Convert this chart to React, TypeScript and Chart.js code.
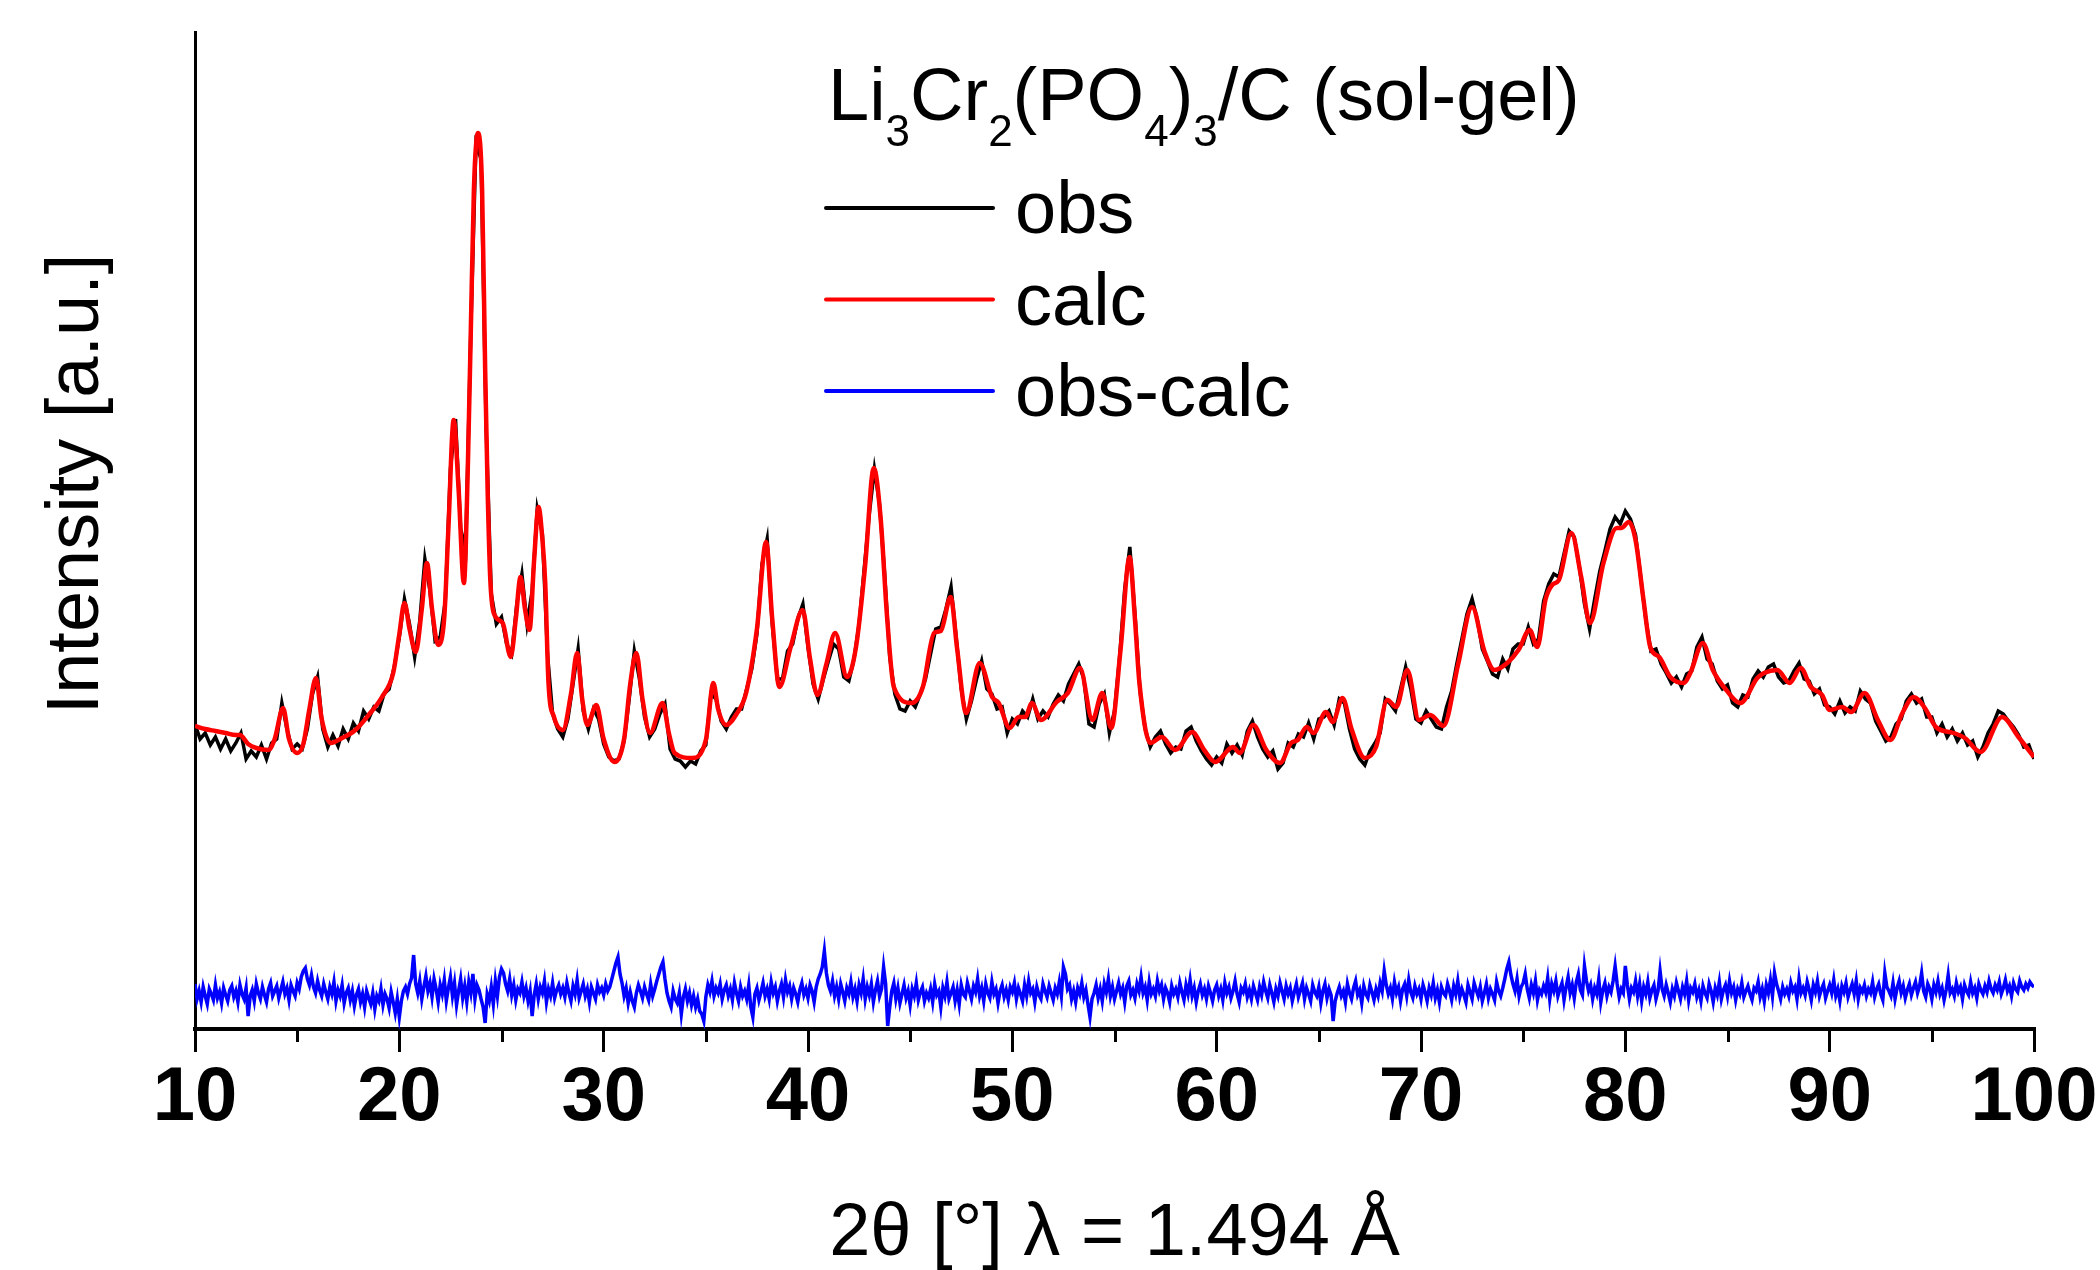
import React, { useEffect, useRef } from "react";
import { Chart, registerables } from "chart.js";

Chart.register(...registerables);

const FONT = "'Liberation Sans', Arial, Helvetica, sans-serif";

// ---- axes ----
const xMin = 10;
const xMax = 100;
const xMajorStep = 10;
const xMinorTicks = [15, 25, 35, 45, 55, 65, 75, 85, 95];
const yMin = 0;
const yMax = 997;
const xTitle = "2\u03B8 [\u00B0] \u03BB = 1.494 \u00C5";
const yTitle = "Intensity [a.u.]";

// legend title: Li3Cr2(PO4)3/C (sol-gel)
const legendTitleParts: { t: string; sub?: boolean }[] = [
  { t: "Li" }, { t: "3", sub: true }, { t: "Cr" }, { t: "2", sub: true },
  { t: "(PO" }, { t: "4", sub: true }, { t: ")" }, { t: "3", sub: true },
  { t: "/C (sol-gel)" },
];

// ---- calculated profile [2theta, intensity] ----
const calcPattern: [number, number][] = [
  [10.0, 303], [10.5, 300], [11.0, 298], [11.5, 296], [12.0, 294], [12.2, 294], [12.6, 285], [13.0, 281],
  [13.6, 279], [13.9, 290], [14.31, 321], [14.6, 290], [15.0, 276], [15.3, 285], [15.6, 320], [15.92, 351],
  [16.2, 310], [16.65, 286], [17.2, 291], [17.85, 299], [18.5, 314], [19.15, 332], [19.7, 356], [20.0, 395],
  [20.25, 426], [20.5, 400], [20.8, 377], [21.1, 420], [21.35, 466], [21.6, 420], [21.9, 384], [22.2, 412],
  [22.4, 500], [22.66, 609], [22.9, 540], [23.16, 446], [23.35, 560], [23.5, 700], [23.65, 840], [23.85, 896],
  [24.05, 840], [24.2, 660], [24.32, 540], [24.45, 450], [24.62, 416], [25.06, 406], [25.45, 372], [25.7, 410],
  [25.93, 452], [26.15, 420], [26.37, 399], [26.6, 470], [26.81, 522], [27.0, 490], [27.14, 446], [27.3, 346],
  [27.57, 312], [28.0, 299], [28.4, 335], [28.7, 376], [28.95, 330], [29.2, 304], [29.64, 324], [30.0, 290],
  [30.52, 267], [31.0, 290], [31.3, 345], [31.6, 376], [31.9, 330], [32.27, 296], [32.88, 326], [33.2, 295],
  [33.47, 276], [34.33, 271], [35.0, 289], [35.37, 346], [35.6, 320], [36.0, 304], [36.5, 315], [36.97, 336],
  [37.5, 400], [37.95, 487], [38.25, 410], [38.6, 342], [39.15, 382], [39.74, 419], [40.1, 370], [40.46, 334],
  [40.9, 365], [41.33, 396], [41.91, 352], [42.35, 382], [42.79, 462], [43.22, 561], [43.55, 512], [43.87, 412],
  [44.2, 342], [45.07, 326], [45.62, 342], [46.17, 396], [46.5, 398], [46.98, 432], [47.3, 380], [47.74, 316],
  [48.4, 366], [49.01, 332], [49.33, 326], [49.87, 301], [50.31, 312], [50.63, 312], [50.96, 326], [51.4, 309],
  [52.17, 327], [52.72, 336], [53.31, 361], [53.92, 309], [54.4, 336], [54.84, 301], [55.3, 380], [55.74, 472],
  [56.0, 410], [56.22, 346], [56.76, 286], [57.31, 292], [57.97, 279], [58.8, 297], [59.39, 279], [59.93, 267],
  [60.8, 282], [61.13, 276], [61.79, 304], [62.43, 279], [63.1, 266], [63.64, 286], [63.97, 289], [64.41, 302],
  [64.74, 296], [65.35, 317], [65.68, 307], [66.16, 331], [66.6, 300], [67.25, 271], [67.8, 282], [68.35, 329],
  [68.79, 322], [69.33, 359], [69.9, 309], [70.45, 314], [71.1, 303], [71.82, 365], [72.5, 422], [73.1, 378],
  [73.6, 359], [74.22, 366], [74.77, 379], [75.32, 399], [75.69, 382], [76.1, 430], [76.42, 444], [76.75, 449],
  [77.36, 496], [77.84, 452], [78.27, 406], [78.93, 466], [79.58, 501], [79.8, 501], [80.17, 507], [80.5, 489],
  [80.89, 429], [81.22, 382], [81.66, 372], [82.2, 352], [82.86, 346], [83.18, 356], [83.79, 386], [84.28, 359],
  [84.94, 339], [85.63, 326], [86.46, 351], [86.79, 356], [87.44, 359], [88.04, 346], [88.58, 361], [89.08, 342],
  [89.63, 334], [90.0, 319], [90.61, 322], [91.05, 317], [91.71, 336], [92.36, 309], [92.97, 289], [93.56, 316],
  [94.11, 332], [94.66, 321], [95.2, 302], [96.07, 296], [96.62, 291], [97.39, 277], [98.44, 312], [99.24, 292],
  [100.0, 272],
];

// ---- observed profile, 2theta from 10 in steps of 0.25 ----
const obsStart = 10;
const obsStep = 0.25;
const obsIntensity = [
  305, 290, 296, 284, 292, 280, 290, 278, 286, 296, 270, 278, 272, 284, 270, 286, 290, 326, 300, 280,
  285, 280, 300, 335, 352, 300, 282, 294, 283, 300, 290, 306, 298, 318, 310, 322, 318, 335, 340, 362,
  392, 430, 405, 372, 408, 470, 438, 388, 392, 428, 560, 610, 500, 480, 700, 885, 870, 600, 435, 405,
  412, 385, 375, 425, 455, 405, 438, 520, 495, 375, 315, 300, 292, 310, 345, 380, 318, 300, 320, 310,
  285, 272, 268, 270, 288, 330, 378, 350, 312, 292, 300, 315, 325, 280, 270, 268, 262, 268, 265, 278,
  284, 335, 330, 308, 300, 312, 320, 320, 340, 360, 395, 465, 490, 405, 350, 350, 378, 385, 410, 425,
  382, 345, 330, 350, 368, 385, 380, 352, 348, 370, 405, 460, 515, 560, 525, 455, 372, 335, 320, 318,
  328, 322, 335, 350, 375, 400, 402, 420, 442, 392, 340, 310, 328, 350, 368, 340, 335, 320, 322, 296,
  310, 305, 318, 312, 330, 310, 318, 312, 325, 334, 328, 345, 355, 365, 350, 305, 302, 325, 335, 296,
  318, 372, 440, 482, 415, 338, 300, 282, 292, 298, 285, 276, 282, 280, 298, 302, 288, 278, 270, 264,
  272, 266, 285, 276, 284, 274, 298, 308, 292, 280, 272, 278, 260, 266, 286, 282, 295, 292, 306, 290,
  310, 312, 318, 304, 330, 326, 300, 280, 270, 264, 278, 286, 296, 330, 325, 318, 340, 362, 340, 310,
  306, 318, 310, 302, 300, 322, 338, 365, 390, 415, 430, 410, 380, 368, 355, 352, 370, 360, 380, 385,
  385, 402, 385, 390, 428, 445, 455, 452, 475, 498, 492, 462, 425, 400, 430, 458, 478, 500, 512, 505,
  518, 510, 494, 452, 410, 378, 380, 365, 356, 346, 352, 342, 355, 358, 382, 392, 370, 365, 348, 340,
  344, 326, 322, 334, 332, 350, 358, 352, 362, 365, 352, 346, 348, 358, 366, 350, 348, 335, 340, 324,
  322, 315, 328, 316, 322, 318, 338, 330, 326, 308, 298, 288, 292, 305, 310, 328, 335, 326, 330, 312,
  312, 296, 305, 292, 300, 288, 296, 284, 288, 272, 282, 296, 305, 318, 315, 308, 302, 294, 282, 284,
  270,
];

// ---- difference curve (offset), 2theta from 10 in steps of 0.1 ----
const diffStart = 10;
const diffStep = 0.1;
const diffIntensity = [
  45, 30, 38, 27, 42, 33, 25, 40, 35, 29, 44, 31, 37, 26, 41, 34, 28, 39, 43, 32,
  38, 27, 44, 35, 30, 41, 13, 33, 39, 28, 45, 36, 30, 42, 34, 27, 40, 46, 33, 38,
  43, 31, 39, 47, 35, 41, 29, 44, 38, 33, 46, 40, 52, 58, 61, 50, 44, 54, 42, 36,
  48, 39, 33, 45, 37, 30, 42, 35, 47, 28, 39, 33, 44, 26, 36, 41, 29, 38, 23, 34,
  40, 27, 35, 22, 38, 31, 25, 36, 20, 33, 28, 40, 24, 35, 30, 21, 37, 27, 16, 30,
  12, 28, 38, 42, 35, 45, 51, 74, 45, 36, 48, 30, 42, 53, 38, 46, 32, 50, 40, 27,
  44, 35, 49, 28, 41, 52, 33, 46, 24, 38, 50, 31, 43, 27, 47, 36, 55, 30, 44, 39,
  30, 22, 6, 35, 28, 42, 25, 48, 33, 52, 60, 56, 45, 38, 50, 34, 44, 29, 40, 36,
  47, 33, 41, 28, 38, 13, 34, 45, 30, 42, 36, 48, 27, 40, 33, 46, 31, 39, 44, 35,
  41, 32, 46, 36, 28, 43, 35, 49, 31, 38, 45, 33, 40, 27, 42, 36, 30, 44, 37, 41,
  34, 45, 38, 42, 50, 58, 66, 72, 55, 46, 33, 41, 26, 37, 28, 22, 36, 44, 38, 31,
  42, 35, 29, 45, 33, 40, 48, 55, 62, 67, 50, 36, 28, 22, 38, 30, 26, 36, 15, 32,
  40, 28, 36, 24, 33, 22, 30, 18, 15, 8, 32, 44, 37, 48, 33, 41, 36, 45, 30, 39,
  44, 33, 40, 29, 46, 36, 28, 42, 33, 38, 30, 44, 22, 12, 35, 41, 29, 37, 46, 33,
  40, 30, 47, 36, 42, 28, 38, 45, 32, 49, 37, 43, 30, 41, 35, 27, 39, 46, 34, 40,
  31, 44, 38, 27, 42, 50, 55, 62, 78, 56, 44, 38, 48, 33, 42, 30, 45, 37, 28, 41,
  35, 47, 32, 40, 28, 44, 36, 50, 30, 42, 34, 45, 27, 39, 48, 33, 40, 62, 45, 3,
  22, 38, 46, 30, 41, 26, 35, 44, 31, 38, 24, 40, 33, 46, 29, 37, 42, 28, 36, 31,
  40, 27, 45, 34, 38, 22, 41, 33, 47, 30, 36, 42, 28, 39, 25, 44, 35, 32, 46, 38,
  30, 43, 37, 50, 33, 41, 28, 45, 36, 31, 47, 35, 40, 26, 38, 44, 32, 39, 29, 42,
  37, 46, 30, 41, 35, 28, 44, 33, 48, 36, 40, 27, 42, 34, 30, 45, 38, 32, 43, 36,
  29, 41, 35, 47, 33, 62, 55, 40, 44, 30, 38, 27, 41, 35, 46, 32, 39, 25, 12, 30,
  36, 44, 31, 40, 28, 45, 37, 50, 33, 42, 30, 38, 46, 35, 41, 27, 43, 48, 34, 39,
  31, 45, 38, 52, 36, 42, 29, 47, 35, 40, 33, 48, 38, 44, 30, 41, 36, 27, 43, 35,
  40, 32, 46, 37, 29, 44, 35, 49, 33, 41, 27, 38, 45, 34, 40, 30, 43, 36, 28, 39,
  44, 33, 40, 29, 46, 36, 42, 31, 38, 48, 35, 27, 41, 37, 45, 32, 39, 30, 43, 36,
  29, 42, 34, 47, 38, 31, 44, 36, 27, 40, 33, 46, 38, 30, 43, 35, 41, 28, 37, 45,
  32, 39, 46, 30, 41, 35, 28, 44, 37, 33, 42, 26, 38, 45, 31, 40, 34, 8, 28, 36,
  42, 33, 38, 27, 45, 36, 30, 41, 48, 34, 39, 26, 43, 35, 31, 44, 37, 29, 40, 33,
  46, 38, 58, 44, 35, 41, 30, 47, 36, 42, 28, 40, 45, 33, 49, 37, 31, 43, 35, 40,
  30, 44, 37, 28, 41, 34, 46, 31, 39, 27, 42, 36, 33, 45, 38, 29, 43, 35, 48, 32,
  40, 34, 27, 44, 37, 30, 46, 39, 33, 42, 28, 36, 45, 31, 40, 35, 29, 47, 38, 33,
  41, 50, 60, 67, 54, 45, 38, 50, 33, 42, 46, 55, 40, 31, 44, 36, 48, 29, 39, 35,
  43, 37, 51, 30, 45, 38, 48, 33, 40, 46, 29, 42, 52, 36, 44, 31, 47, 55, 39, 34,
  63, 48, 38, 44, 30, 41, 35, 50, 27, 39, 46, 33, 42, 37, 48, 63, 45, 32, 40, 36,
  63, 44, 30, 41, 37, 48, 33, 45, 28, 42, 35, 47, 31, 39, 44, 30, 38, 58, 40, 33,
  44, 36, 27, 40, 33, 46, 38, 30, 42, 35, 48, 29, 41, 37, 45, 32, 39, 28, 43, 36,
  31, 45, 38, 27, 41, 34, 47, 30, 39, 44, 33, 48, 36, 42, 29, 40, 35, 46, 32, 38,
  43, 35, 29, 41, 38, 47, 32, 40, 28, 44, 36, 49, 33, 56, 45, 38, 30, 42, 35, 40,
  33, 46, 38, 42, 30, 50, 36, 41, 34, 47, 39, 29, 44, 37, 48, 33, 40, 45, 31, 38,
  44, 36, 49, 33, 40, 28, 43, 37, 46, 32, 39, 45, 35, 48, 30, 41, 37, 44, 33, 40,
  36, 47, 32, 40, 45, 35, 29, 56, 42, 38, 33, 46, 30, 41, 48, 36, 43, 31, 39, 45,
  34, 41, 47, 36, 43, 56, 38, 32, 45, 40, 30, 44, 37, 48, 35, 41, 29, 39, 54, 36,
  40, 33, 46, 37, 42, 30, 44, 38, 34, 47, 36, 41, 31, 45, 39, 35, 43, 37, 48, 40,
  36, 44, 39, 47, 35, 41, 49, 38, 43, 33, 46, 40, 37, 48, 42, 39, 45, 41, 47, 44,
  42,
];

const decorPlugin = {
  id: "decor",
  afterDraw(chart: any) {
    const { ctx, chartArea, scales } = chart;
    const xs = scales.x;
    ctx.save();

    // minor ticks on the x axis
    ctx.strokeStyle = "#000";
    ctx.lineWidth = 3;
    for (const v of xMinorTicks) {
      const px = Math.round(xs.getPixelForValue(v)) + 0.5;
      ctx.beginPath();
      ctx.moveTo(px, chartArea.bottom);
      ctx.lineTo(px, chartArea.bottom + 13);
      ctx.stroke();
    }

    ctx.fillStyle = "#000";
    ctx.textBaseline = "alphabetic";

    // x axis title
    ctx.font = `74px ${FONT}`;
    ctx.textAlign = "center";
    ctx.fillText(xTitle, (chartArea.left + chartArea.right) / 2, chartArea.bottom + 226);

    // y axis title
    ctx.save();
    ctx.translate(chartArea.left - 97, chartArea.top + 452);
    ctx.rotate(-Math.PI / 2);
    ctx.fillText(yTitle, 0, 0);
    ctx.restore();

    // legend title with subscripts
    ctx.textAlign = "left";
    let tx = chartArea.left + 633;
    const ty = chartArea.top + 88;
    for (const p of legendTitleParts) {
      if (p.sub) {
        ctx.font = `44px ${FONT}`;
        ctx.fillText(p.t, tx, ty + 26);
      } else {
        ctx.font = `74px ${FONT}`;
        ctx.fillText(p.t, tx, ty);
      }
      tx += ctx.measureText(p.t).width;
    }

    // legend entries
    ctx.font = `74px ${FONT}`;
    chart.data.datasets.forEach((ds: any, k: number) => {
      const ly = chartArea.top + 176 + k * 91.5;
      ctx.strokeStyle = ds.borderColor;
      ctx.lineWidth = 4;
      ctx.lineCap = "round";
      ctx.beginPath();
      ctx.moveTo(chartArea.left + 631, ly);
      ctx.lineTo(chartArea.left + 798, ly);
      ctx.stroke();
      ctx.fillStyle = "#000";
      ctx.fillText(ds.label, chartArea.left + 820, ly + 25);
    });

    ctx.restore();
  },
};

export default function App() {
  const canvasRef = useRef<HTMLCanvasElement | null>(null);

  useEffect(() => {
    const prevMargin = document.body.style.margin;
    document.body.style.margin = "0";
    const canvas = canvasRef.current;
    if (!canvas) return;

    const obsData = obsIntensity.map((y, i) => ({ x: obsStart + i * obsStep, y }));
    const calcData = calcPattern.map(([x, y]) => ({ x, y }));
    const diffData = diffIntensity.map((y, i) => ({ x: diffStart + i * diffStep, y }));

    const chart = new Chart(canvas, {
      type: "line",
      data: {
        datasets: [
          {
            label: "obs",
            data: obsData,
            borderColor: "#000000",
            borderWidth: 3.5,
            pointRadius: 0,
            tension: 0,
            order: 2,
          },
          {
            label: "calc",
            data: calcData,
            borderColor: "#ff0000",
            borderWidth: 4.5,
            pointRadius: 0,
            cubicInterpolationMode: "monotone",
            order: 1,
          },
          {
            label: "obs-calc",
            data: diffData,
            borderColor: "#0000ff",
            borderWidth: 3.5,
            pointRadius: 0,
            tension: 0,
            order: 3,
          },
        ],
      },
      options: {
        responsive: false,
        animation: false,
        devicePixelRatio: 1,
        events: [],
        layout: { padding: { left: 0, top: 32, right: 66, bottom: 0 } },
        plugins: {
          legend: { display: false },
          tooltip: { enabled: false },
          title: { display: false },
        },
        scales: {
          x: {
            type: "linear",
            min: xMin,
            max: xMax,
            afterFit: (scale: any) => {
              scale.height = 241;
            },
            ticks: {
              stepSize: xMajorStep,
              maxRotation: 0,
              autoSkip: false,
              padding: 1,
              color: "#000",
              font: { family: FONT, size: 76, weight: "bold" },
            },
            grid: {
              display: true,
              drawOnChartArea: false,
              drawTicks: true,
              tickLength: 23,
              tickWidth: 3,
              tickColor: "#000",
              lineWidth: 3,
              color: "#000",
            },
            border: { display: true, width: 4, color: "#000" },
          },
          y: {
            type: "linear",
            min: yMin,
            max: yMax,
            afterFit: (scale: any) => {
              scale.width = 195;
            },
            ticks: { display: false },
            grid: { display: false, drawTicks: false },
            border: { display: true, width: 3, color: "#000" },
          },
        },
      },
      plugins: [decorPlugin],
    });

    return () => {
      chart.destroy();
      document.body.style.margin = prevMargin;
    };
  }, []);

  return (
    <div style={{ position: "absolute", left: 0, top: 0, width: 2100, height: 1270, background: "#fff" }}>
      <canvas ref={canvasRef} width={2100} height={1270} style={{ display: "block" }} />
    </div>
  );
}
